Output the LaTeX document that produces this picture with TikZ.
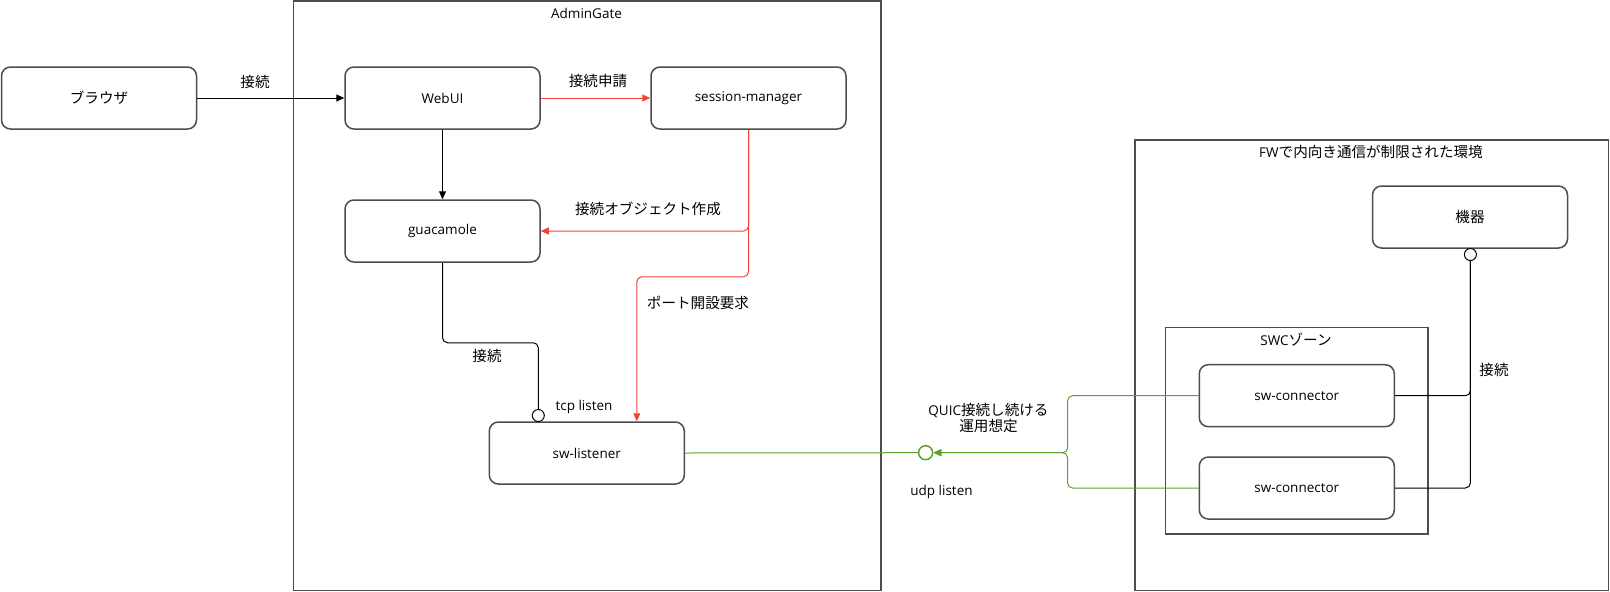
\documentclass[tikz,border=0pt]{standalone}
\usepackage{fontspec}
\setmainfont{Open Sans}
\newfontfamily\cjk[Scale=1.08]{Noto Sans CJK JP}
\usetikzlibrary{arrows.meta,calc}
\definecolor{boxline}{HTML}{4D4D4D}
\definecolor{redline}{HTML}{F44336}
\definecolor{greenline}{HTML}{60A030}
\begin{document}
\begin{tikzpicture}[x=1pt,y=-1pt,
 box/.style={draw=boxline,line width=1.5pt,rounded corners=9pt,minimum width=195pt,minimum height=62pt,font=\fontsize{13.5}{16}\selectfont,inner sep=0pt},
 cont/.style={draw=boxline,line width=1.5pt,inner sep=0pt},
 lbl/.style={font=\fontsize{13.5}{16}\selectfont,inner sep=0pt,align=center},
 conn/.style={line width=1pt,rounded corners=5pt},
 arr/.style={-{Triangle[length=8pt,width=7pt]}},
 port/.style={circle,draw,line width=1pt,minimum size=12pt,inner sep=0pt,fill=white},
]
\useasboundingbox (0,0) rectangle (1610,592);
% containers
\node (admin) [cont,minimum width=587.5pt,minimum height=589.7pt] at (587.25,295.85) {};
\node (fw) [cont,minimum width=473.6pt,minimum height=450.7pt] at (1371.8,365.35) {};
\node (swczone) [cont,minimum width=262.6pt,minimum height=206.3pt] at (1296.7,430.85) {};
\node (admintitle) [lbl] at (586.5,13) {AdminGate};
\node (fwtitle) [lbl] at (1371,152) {FW{\cjk で内向き通信が制限された環境}};
\node (swctitle) [lbl] at (1296,339.5) {SWC{\cjk ゾーン}};
% boxes
\node (browser) [box] at (99,98) {\cjk ブラウザ};
\node (webui) [box] at (442.5,98) {WebUI};
\node (sm) [box] at (748.5,98) {session-manager};
\node (guac) [box] at (442.5,231) {guacamole};
\node (swl) [box] at (586.8,453) {sw-listener};
\node (kiki) [box] at (1470,217) {\cjk 機器};
\node (swc1) [box] at (1296.8,395.7) {sw-connector};
\node (swc2) [box] at (1296.8,488) {sw-connector};
% ports
\node (tport) [port] at (538.3,415.5) {};
\node (kport) [port] at (1470.4,254.5) {};
\node (uport) [port,draw=greenline,line width=1.5pt,minimum size=14pt] at (925.6,452.7) {};
\coordinate (gj) at (1067.6,452.7);
% connectors
\draw[conn,arr] (browser.east) -- (webui.west);
\node (l1) [lbl] at (255,82) {\cjk 接続};
\draw[conn,arr,redline] (webui.east) -- (sm.west);
\node (l2) [lbl] at (598,81) {\cjk 接続申請};
\draw[conn,arr] (webui.south) -- (guac.north);
\draw[conn,arr,redline] (sm.south) |- (guac.east);
\node (l3) [lbl] at (648,209) {\cjk 接続オブジェクト作成};
\draw[conn,arr,redline] (sm.south) -- ++(0,147) -| ($(swl.north)+(50,0)$);
\node (l4) [lbl] at (698,303) {\cjk ポート開設要求};
\draw[conn] (guac.south) -- ++(0,80) -| (tport.north);
\node (l5) [lbl] at (487,356) {\cjk 接続};
\node (l6) [lbl] at (584,407) {tcp listen};
\draw[conn,greenline] (swl.east) -- (uport.west);
\draw[conn,arr,greenline] (swc1.west) -| (gj) -- (uport.east);
\draw[conn,arr,greenline] (swc2.west) -| (gj) -- (uport.east);
\node (l7) [lbl] at (988.5,417.5) {QUIC{\cjk 接続し続ける}\\{\cjk 運用想定}};
\node (l8) [lbl] at (941.5,492) {udp listen};
\draw[conn] (swc1.east) -| (kport.south);
\draw[conn] (swc2.east) -| (kport.south);
\node (l9) [lbl] at (1494,370) {\cjk 接続};
\end{tikzpicture}
\end{document}
